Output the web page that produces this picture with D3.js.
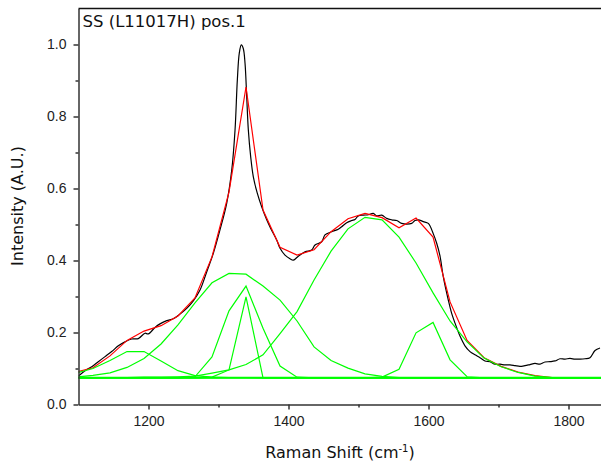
<!DOCTYPE html>
<html>
<head>
<meta charset="utf-8">
<script src="https://cdn.jsdelivr.net/npm/d3@7/dist/d3.min.js"></script>
<style>
  html, body { margin: 0; padding: 0; background: #fff; }
  svg { display: block; }
</style>
</head>
<body>
<div id="chart"></div>
<script>
// Raman spectrum with peak-fit decomposition

// Fitted curves are evaluated on this Raman-shift grid (cm^-1)
const fitShift = [1096.4,1120.7,1145.0,1169.3,1193.6,1217.9,1242.1,1266.4,1290.7,1315.0,1339.3,1363.6,
  1387.9,1412.2,1436.5,1460.8,1485.0,1509.3,1533.6,1557.9,1582.2,1606.5,1630.8,1655.1,1679.4,1703.7,
  1728.0,1752.2,1776.5,1800.8,1825.1,1849.4];

const baselineLevel = 0.074;

// Individual fitted bands (baseline included)
const band1180 = [0.087,0.100,0.122,0.147,0.147,0.121,0.094,0.080,0.076,0.075,0.075,0.074,
  0.074,0.074,0.074,0.074,0.074,0.074,0.074,0.074,0.074,0.074,0.074,0.074,0.074,0.074,0.074,0.074,0.074,0.074,0.074,0.074];
const band1325wide = [0.076,0.081,0.088,0.103,0.128,0.168,0.221,0.282,0.338,0.364,0.362,0.329,
  0.290,0.232,0.160,0.122,0.101,0.085,0.078,0.075,0.074,0.074,0.074,0.074,0.074,0.074,0.074,0.074,0.074,0.074,0.074,0.074];
const band1340 = [0.074,0.074,0.074,0.074,0.074,0.074,0.074,0.077,0.132,0.260,0.329,0.212,
  0.107,0.076,0.074,0.074,0.074,0.074,0.074,0.074,0.074,0.074,0.074,0.074,0.074,0.074,0.074,0.074,0.074,0.074,0.074,0.074];
const band1340narrow = [0.074,0.074,0.074,0.074,0.074,0.074,0.074,0.074,0.076,0.096,0.299,0.074,
  0.074,0.074,0.074,0.074,0.074,0.074,0.074,0.074,0.074,0.074,0.074,0.074,0.074,0.074,0.074,0.074,0.074,0.074,0.074,0.074];
const band1515 = [0.074,0.074,0.075,0.075,0.076,0.076,0.077,0.079,0.087,0.096,0.111,0.138,
  0.197,0.258,0.346,0.426,0.488,0.520,0.513,0.465,0.393,0.310,0.232,0.174,0.129,0.105,0.089,0.079,0.075,0.074,0.074,0.074];
const band1605 = [0.074,0.074,0.074,0.074,0.074,0.074,0.074,0.074,0.074,0.074,0.074,0.074,
  0.074,0.074,0.074,0.074,0.074,0.074,0.076,0.098,0.199,0.228,0.124,0.077,0.074,0.074,0.074,0.074,0.074,0.074,0.074,0.074];

// Cumulative fit
const fitSum = [0.090,0.102,0.135,0.178,0.204,0.219,0.246,0.296,0.410,0.590,0.882,0.540,
  0.437,0.415,0.430,0.480,0.516,0.531,0.519,0.491,0.518,0.465,0.285,0.178,0.130,0.106,0.090,0.080,0.075,0.074,0.074,0.074];

// Measured spectrum
const dataShift = [1100.0,1109.3,1118.9,1128.3,1137.9,1147.4,1156.9,1166.4,1176.0,1185.4,1195.0,1199.7,
  1209.3,1216.4,1226.0,1235.4,1245.0,1254.6,1264.0,1273.6,1284.0,1292.6,1302.1,1311.7,1318.9,1323.6,
  1326.9,1329.7,1332.6,1335.4,1337.9,1340.3,1342.6,1346.0,1349.7,1355.4,1361.7,1368.9,1374.6,1383.1,
  1387.9,1395.0,1402.1,1406.9,1414.0,1423.6,1433.1,1437.9,1447.4,1452.1,1461.7,1471.1,1476.0,1483.1,
  1490.3,1495.0,1499.7,1506.9,1514.0,1521.1,1526.0,1533.1,1540.3,1547.4,1554.6,1561.7,1568.9,1576.0,
  1580.7,1585.4,1592.6,1599.7,1606.9,1611.7,1616.4,1621.1,1628.3,1633.1,1637.9,1645.0,1652.1,1659.3,
  1666.4,1673.6,1680.7,1687.9,1695.0,1702.1,1709.3,1716.4,1723.6,1730.7,1737.9,1745.0,1752.1,1759.3,
  1766.4,1773.6,1780.7,1787.9,1795.0,1802.1,1809.3,1816.4,1823.6,1830.7,1837.9,1845.0];
const dataIntensity = [0.079,0.094,0.105,0.119,0.133,0.147,0.163,0.174,0.182,0.183,0.198,0.196,
  0.214,0.224,0.233,0.238,0.251,0.267,0.288,0.318,0.373,0.420,0.485,0.559,0.651,0.762,
  0.901,0.976,0.999,0.989,0.948,0.855,0.763,0.688,0.633,0.587,0.549,0.513,0.489,0.457,
  0.434,0.415,0.405,0.401,0.412,0.424,0.429,0.443,0.452,0.471,0.480,0.487,0.494,0.505,
  0.511,0.514,0.524,0.526,0.527,0.531,0.524,0.526,0.517,0.513,0.511,0.503,0.501,0.503,
  0.511,0.513,0.508,0.503,0.474,0.448,0.413,0.355,0.290,0.253,0.226,0.190,0.163,0.147,
  0.138,0.130,0.121,0.119,0.112,0.112,0.110,0.110,0.108,0.106,0.108,0.111,0.114,0.112,
  0.118,0.119,0.121,0.127,0.126,0.128,0.126,0.126,0.127,0.130,0.150,0.157];

const xMajorTicks = [1200, 1400, 1600, 1800];
const xMinorTicks = [1300, 1500, 1700];
const yMajorTicks = [0.0, 0.2, 0.4, 0.6, 0.8, 1.0];
const yMinorTicks = [0.1, 0.3, 0.5, 0.7, 0.9];

const W = 601, H = 469;
const plotLeft = 78.5, plotTop = 8.5, plotBottom = 404.5;

const svg = d3.select("#chart").append("svg").attr("width", W).attr("height", H);

const x = d3.scaleLinear().domain([1100, 1900]).range([plotLeft, plotLeft + 560]);
const y = d3.scaleLinear().domain([0, 1.1]).range([plotBottom, plotTop]);

svg.append("defs").append("clipPath").attr("id", "plot-clip")
  .append("rect").attr("x", plotLeft).attr("y", plotTop)
  .attr("width", W - plotLeft + 40).attr("height", plotBottom - plotTop);

const plot = svg.append("g").attr("clip-path", "url(#plot-clip)");

const fitLine = d3.line().x(d => x(d[0])).y(d => y(d[1]));
const dataLine = d3.line().x(d => x(d[0])).y(d => y(d[1])).curve(d3.curveCatmullRom.alpha(0.5));

// measured spectrum
plot.append("path")
  .datum(dataShift.map((s, i) => [s, dataIntensity[i]]))
  .attr("d", dataLine).attr("fill", "none").attr("stroke", "#000").attr("stroke-width", 1.2);

// cumulative fit
plot.append("path")
  .datum(fitShift.map((s, i) => [s, fitSum[i]]))
  .attr("d", fitLine).attr("fill", "none").attr("stroke", "#ff0000").attr("stroke-width", 1.2);

// baseline
plot.append("line")
  .attr("x1", x(1100)).attr("x2", x(1900))
  .attr("y1", y(baselineLevel)).attr("y2", y(baselineLevel))
  .attr("stroke", "#00ff00").attr("stroke-width", 2);

// component bands
[band1180, band1325wide, band1340, band1340narrow, band1515, band1605].forEach(b => {
  plot.append("path")
    .datum(fitShift.map((s, i) => [s, b[i]]))
    .attr("d", fitLine).attr("fill", "none").attr("stroke", "#00ff00").attr("stroke-width", 1.2);
});

// axes
const axisColor = "#333";
svg.append("g").attr("transform", `translate(0,${plotBottom})`)
  .call(d3.axisBottom(x).tickValues(xMajorTicks).tickSize(5).tickPadding(7).tickSizeOuter(0).tickFormat(d3.format("d")));
svg.append("g").attr("transform", `translate(${plotLeft},0)`)
  .call(d3.axisLeft(y).tickValues(yMajorTicks).tickSize(5).tickPadding(7).tickSizeOuter(0).tickFormat(d3.format(".1f")));

svg.append("g").attr("transform", `translate(0,${plotBottom})`)
  .call(d3.axisBottom(x).tickValues(xMinorTicks).tickSize(3).tickSizeOuter(0).tickFormat(""))
  .select(".domain").remove();
svg.append("g").attr("transform", `translate(${plotLeft},0)`)
  .call(d3.axisLeft(y).tickValues(yMinorTicks).tickSize(3).tickSizeOuter(0).tickFormat(""))
  .select(".domain").remove();

svg.selectAll(".domain, .tick line").attr("stroke", axisColor).attr("stroke-width", 1.5);
svg.selectAll(".tick text")
  .attr("fill", "#222")
  .style("font-family", "'Liberation Sans', Arial, sans-serif")
  .style("font-size", "14px");

// top frame line
svg.append("line")
  .attr("x1", plotLeft).attr("x2", W).attr("y1", plotTop).attr("y2", plotTop)
  .attr("stroke", "#111").attr("stroke-width", 1.4);

// titles
const labelFont = "'DejaVu Sans', Verdana, sans-serif";
svg.append("text")
  .attr("x", 82.5).attr("y", 27)
  .style("font-family", labelFont).style("font-size", "16.5px").attr("fill", "#111")
  .text("SS (L11017H) pos.1");

const xTitle = svg.append("text")
  .attr("x", 340).attr("y", 458).attr("text-anchor", "middle")
  .style("font-family", labelFont).style("font-size", "16px").attr("fill", "#111");
xTitle.append("tspan").text("Raman Shift (cm");
xTitle.append("tspan").attr("dy", -6).style("font-size", "10px").text("-1");
xTitle.append("tspan").attr("dy", 6).text(")");

svg.append("text")
  .attr("transform", "translate(23,206) rotate(-90)")
  .attr("text-anchor", "middle")
  .style("font-family", labelFont).style("font-size", "16px").attr("fill", "#111")
  .text("Intensity (A.U.)");
</script>
</body>
</html>
